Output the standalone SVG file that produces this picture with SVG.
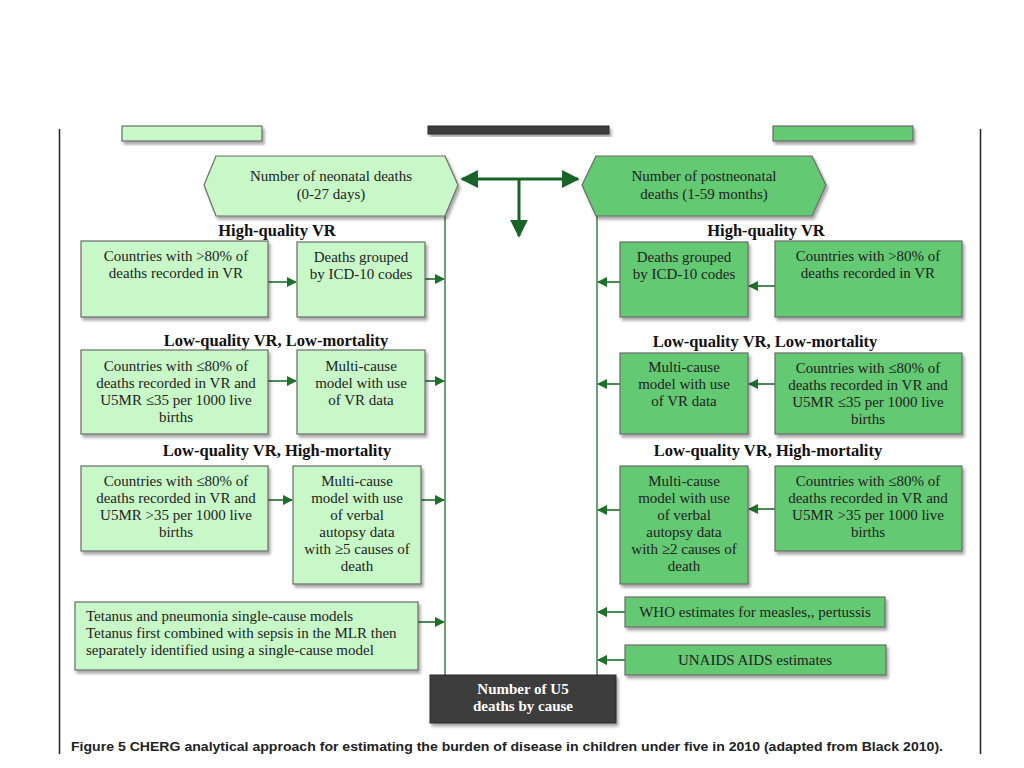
<svg xmlns="http://www.w3.org/2000/svg" width="1024" height="768" viewBox="0 0 1024 768">
<defs>
<filter id="sh" x="-10%" y="-10%" width="130%" height="140%"><feDropShadow dx="2" dy="3" stdDeviation="1.5" flood-color="#000" flood-opacity="0.35"/></filter>
<marker id="ah" viewBox="0 0 10 10" refX="9" refY="5" markerWidth="6.5" markerHeight="6.5" orient="auto"><path d="M0,0 L10,5 L0,10 z" fill="#1f6e2c"/></marker>
<marker id="ahb" viewBox="0 0 10 10" refX="9" refY="5" markerWidth="6" markerHeight="6" orient="auto-start-reverse"><path d="M0,0 L10,5 L0,10 z" fill="#1a6326"/></marker>
</defs>
<style>
.lg{fill:#c8f8c8;stroke:#6a6a6a;stroke-width:1.2;filter:url(#sh)}
.dg{fill:#64c972;stroke:#6a6a6a;stroke-width:1.2;filter:url(#sh)}
.dk{fill:#3d3d3d;stroke:#2a2a2a;stroke-width:1;filter:url(#sh)}
.t{font-family:"Liberation Serif",serif;font-size:15px;fill:#222;text-anchor:middle}
.tl{font-family:"Liberation Serif",serif;font-size:15px;fill:#222}
.h{font-family:"Liberation Serif",serif;font-size:16.5px;font-weight:bold;fill:#111;text-anchor:middle}
.w{font-family:"Liberation Serif",serif;font-size:15px;font-weight:bold;fill:#fff;text-anchor:middle}
.ln{stroke:#1f6e2c;stroke-width:1.3;fill:none}
.ar{stroke:#1f6e2c;stroke-width:1.6;fill:none;marker-end:url(#ah)}
.big{stroke:#1a6326;stroke-width:3;fill:none}
</style>
<rect width="1024" height="768" fill="#fff"/>
<g id="page">
<line x1="59.5" y1="129" x2="59.5" y2="754" stroke="#222" stroke-width="1.5"/>
<line x1="980.5" y1="129" x2="980.5" y2="754" stroke="#222" stroke-width="1.5"/>
<rect x="122" y="126" width="140" height="15" class="lg"/>
<rect x="428" y="126" width="181" height="8" class="dk"/>
<rect x="773" y="126" width="140" height="15" class="dg"/>
</g>
<g id="connectors">
<line class="ln" x1="445" y1="216" x2="445" y2="676"/>
<line class="ln" x1="597" y1="216" x2="597" y2="676"/>
<line class="big" x1="462" y1="179" x2="578" y2="179" marker-start="url(#ahb)" marker-end="url(#ahb)"/>
<line class="big" x1="519" y1="179" x2="519" y2="236" marker-end="url(#ahb)"/>
<line class="ar" x1="267" y1="282" x2="296" y2="282"/>
<line class="ar" x1="424" y1="279" x2="444" y2="279"/>
<line class="ar" x1="267" y1="381" x2="296" y2="381"/>
<line class="ar" x1="424" y1="381" x2="444" y2="381"/>
<line class="ar" x1="267" y1="500" x2="292" y2="500"/>
<line class="ar" x1="421" y1="500" x2="444" y2="500"/>
<line class="ar" x1="418" y1="622" x2="444" y2="622"/>
<line class="ar" x1="775" y1="286" x2="749" y2="286"/>
<line class="ar" x1="620" y1="282" x2="598" y2="282"/>
<line class="ar" x1="775" y1="384" x2="749" y2="384"/>
<line class="ar" x1="620" y1="384" x2="598" y2="384"/>
<line class="ar" x1="775" y1="509" x2="749" y2="509"/>
<line class="ar" x1="620" y1="510" x2="598" y2="510"/>
<line class="ar" x1="625" y1="612" x2="598" y2="612"/>
<line class="ar" x1="625" y1="660" x2="598" y2="660"/>
</g>
<g id="neonatal">
<polygon class="lg" points="216,156 445,156 458,185 445,216 216,216 204,185"/>
<text class="t" x="331" y="181">Number of neonatal deaths</text>
<text class="t" x="331" y="199">(0-27 days)</text>
</g>
<g id="postneonatal">
<polygon class="dg" points="596,156 812,156 826,185 812,216 596,216 582,185"/>
<text class="t" x="704" y="181">Number of postneonatal</text>
<text class="t" x="704" y="199">deaths (1-59 months)</text>
</g>
<g id="headers">
<text class="h" x="277" y="236">High-quality VR</text>
<text class="h" x="276" y="346">Low-quality VR, Low-mortality</text>
<text class="h" x="277" y="456">Low-quality VR, High-mortality</text>
<text class="h" x="766" y="236">High-quality VR</text>
<text class="h" x="765" y="347">Low-quality VR, Low-mortality</text>
<text class="h" x="768" y="456">Low-quality VR, High-mortality</text>
</g>
<g id="l-hq-countries">
<rect class="lg" x="81" y="241" width="187" height="76"/>
<text class="t" x="176" y="261">Countries with &gt;80% of</text>
<text class="t" x="176" y="278">deaths recorded in VR</text>
</g>
<g id="l-hq-icd">
<rect class="lg" x="297" y="242" width="128" height="75"/>
<text class="t" x="361" y="262">Deaths grouped</text>
<text class="t" x="361" y="279">by ICD-10 codes</text>
</g>
<g id="l-lm-countries">
<rect class="lg" x="81" y="350" width="187" height="84"/>
<text class="t" x="176" y="371">Countries with ≤80% of</text>
<text class="t" x="176" y="388">deaths recorded in VR and</text>
<text class="t" x="176" y="405">U5MR ≤35 per 1000 live</text>
<text class="t" x="176" y="422">births</text>
</g>
<g id="l-lm-model">
<rect class="lg" x="297" y="350" width="128" height="84"/>
<text class="t" x="361" y="371">Multi-cause</text>
<text class="t" x="361" y="388">model with use</text>
<text class="t" x="361" y="405">of VR data</text>
</g>
<g id="l-hm-countries">
<rect class="lg" x="81" y="466" width="187" height="85"/>
<text class="t" x="176" y="486">Countries with ≤80% of</text>
<text class="t" x="176" y="503">deaths recorded in VR and</text>
<text class="t" x="176" y="520">U5MR &gt;35 per 1000 live</text>
<text class="t" x="176" y="537">births</text>
</g>
<g id="l-hm-model">
<rect class="lg" x="293" y="466" width="128" height="118"/>
<text class="t" x="357" y="486">Multi-cause</text>
<text class="t" x="357" y="503">model with use</text>
<text class="t" x="357" y="520">of verbal</text>
<text class="t" x="357" y="537">autopsy data</text>
<text class="t" x="357" y="554">with ≥5 causes of</text>
<text class="t" x="357" y="571">death</text>
</g>
<g id="l-tetanus">
<rect class="lg" x="75" y="602" width="343" height="68"/>
<text class="tl" x="86" y="621">Tetanus and pneumonia single-cause models</text>
<text class="tl" x="86" y="638">Tetanus first combined with sepsis in the MLR then</text>
<text class="tl" x="86" y="655">separately identified using a single-cause model</text>
</g>
<g id="r-hq-icd">
<rect class="dg" x="620" y="242" width="128" height="75"/>
<text class="t" x="684" y="262">Deaths grouped</text>
<text class="t" x="684" y="279">by ICD-10 codes</text>
</g>
<g id="r-hq-countries">
<rect class="dg" x="775" y="241" width="187" height="76"/>
<text class="t" x="868" y="261">Countries with &gt;80% of</text>
<text class="t" x="868" y="278">deaths recorded in VR</text>
</g>
<g id="r-lm-model">
<rect class="dg" x="620" y="353" width="128" height="81"/>
<text class="t" x="684" y="372">Multi-cause</text>
<text class="t" x="684" y="389">model with use</text>
<text class="t" x="684" y="406">of VR data</text>
</g>
<g id="r-lm-countries">
<rect class="dg" x="775" y="353" width="187" height="81"/>
<text class="t" x="868" y="373">Countries with ≤80% of</text>
<text class="t" x="868" y="390">deaths recorded in VR and</text>
<text class="t" x="868" y="407">U5MR ≤35 per 1000 live</text>
<text class="t" x="868" y="424">births</text>
</g>
<g id="r-hm-model">
<rect class="dg" x="620" y="466" width="128" height="118"/>
<text class="t" x="684" y="486">Multi-cause</text>
<text class="t" x="684" y="503">model with use</text>
<text class="t" x="684" y="520">of verbal</text>
<text class="t" x="684" y="537">autopsy data</text>
<text class="t" x="684" y="554">with ≥2 causes of</text>
<text class="t" x="684" y="571">death</text>
</g>
<g id="r-hm-countries">
<rect class="dg" x="775" y="466" width="187" height="85"/>
<text class="t" x="868" y="486">Countries with ≤80% of</text>
<text class="t" x="868" y="503">deaths recorded in VR and</text>
<text class="t" x="868" y="520">U5MR &gt;35 per 1000 live</text>
<text class="t" x="868" y="537">births</text>
</g>
<g id="r-who">
<rect class="dg" x="625" y="597" width="260" height="30"/>
<text class="t" x="755" y="617">WHO estimates for measles,,  pertussis</text>
</g>
<g id="r-unaids">
<rect class="dg" x="625" y="645" width="261" height="30"/>
<text class="t" x="755" y="665">UNAIDS AIDS estimates</text>
</g>
<g id="u5">
<rect class="dk" x="430" y="675" width="186" height="48"/>
<text class="w" x="523" y="694">Number of U5</text>
<text class="w" x="523" y="711">deaths by cause</text>
</g>
<g id="caption">
<text x="71" y="751" font-family="'Liberation Sans',sans-serif" font-size="13.5" font-weight="bold" fill="#222" textLength="872" lengthAdjust="spacingAndGlyphs">Figure 5 CHERG analytical approach for estimating the burden of disease in children under five in 2010 (adapted from Black 2010).</text>
</g>
</svg>
